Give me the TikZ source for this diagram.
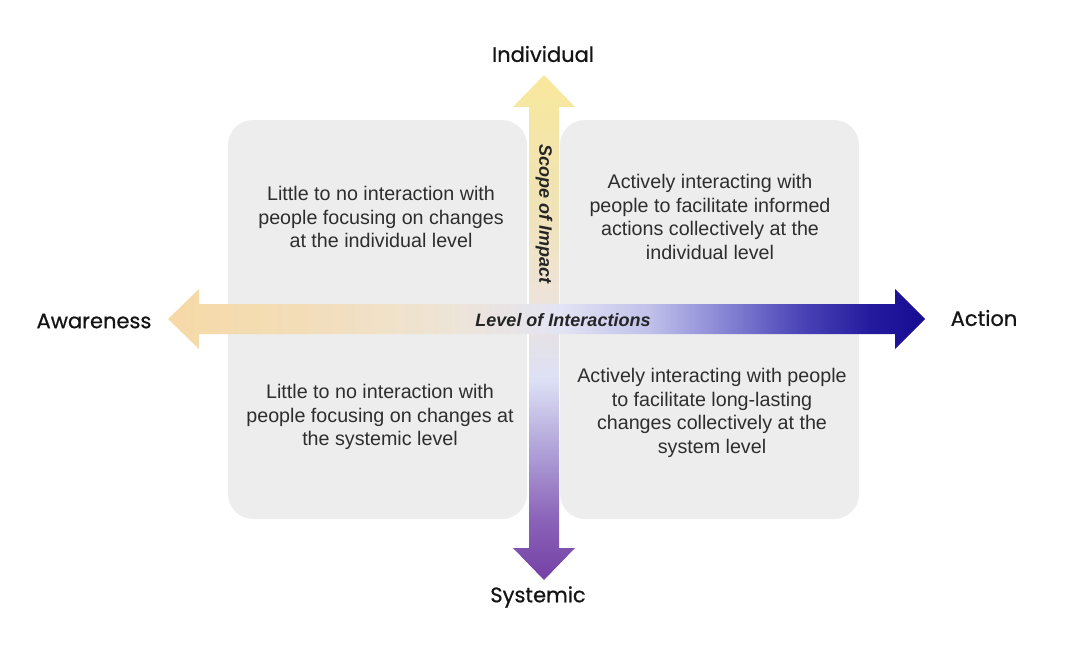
\documentclass[tikz,border=0pt]{standalone}
\usepackage{fontspec}
\setmainfont{Liberation Sans}
\newfontfamily\labelfont[FakeBold=0.7]{Poppins}
\usetikzlibrary{positioning}
\definecolor{boxgray}{HTML}{ECEDEC}
\definecolor{boxtext}{HTML}{2E2E2E}
\definecolor{labeltext}{HTML}{141414}
\definecolor{h0}{HTML}{F6D9A6}
\definecolor{h1}{HTML}{F3DDB8}
\definecolor{h2}{HTML}{EEE4D6}
\definecolor{h3}{HTML}{E3E4F4}
\definecolor{h4}{HTML}{C0C0EA}
\definecolor{h5}{HTML}{8A88D6}
\definecolor{h6}{HTML}{4B45B7}
\definecolor{h7}{HTML}{231A9E}
\definecolor{h8}{HTML}{160C92}
\definecolor{v0}{HTML}{7440A5}
\definecolor{v1}{HTML}{8A62B8}
\definecolor{v2}{HTML}{B0A2D8}
\definecolor{v3}{HTML}{DDE0F5}
\definecolor{v4}{HTML}{EEE3D6}
\definecolor{v5}{HTML}{F0E3B5}
\definecolor{v6}{HTML}{F8E89C}
\pgfdeclarehorizontalshading{hgrad}{100bp}{color(0bp)=(h0); color(25bp)=(h0); color(33.7bp)=(h1); color(43.6bp)=(h2); color(50.9bp)=(h3); color(56.8bp)=(h4); color(61.5bp)=(h5); color(66.7bp)=(h6); color(71.4bp)=(h7); color(75bp)=(h8); color(100bp)=(h8)}
\pgfdeclareverticalshading{vgrad}{100bp}{color(0bp)=(v0); color(25bp)=(v0); color(30.9bp)=(v1); color(37.9bp)=(v2); color(44.8bp)=(v3); color(53.7bp)=(v4); color(62.6bp)=(v5); color(75bp)=(v6); color(100bp)=(v6)}
\tikzset{
  quad/.style={fill=boxgray, draw=none, rounded corners=25pt},
  quadtext/.style={text=boxtext, align=center, font=\fontsize{19.7}{23.5}\selectfont},
  axislabel/.style={text=labeltext, font=\labelfont\fontsize{21}{25}\selectfont},
  axistitle/.style={text=boxtext!80!black, font=\bfseries\itshape\fontsize{18}{21}\selectfont, inner sep=0pt},
}
\begin{document}
\begin{tikzpicture}[x=1pt,y=-1pt]
\useasboundingbox (0,0) rectangle (1074,654);
% quadrant backgrounds
\fill[quad] (228,120) rectangle (527,519);
\fill[quad] (560,120) rectangle (859,519);
% vertical arrow
\shade[shading=vgrad] (544,75) -- (575,107) -- (559,107) -- (559,548) -- (575,548) -- (544,580) -- (513,548) -- (529,548) -- (529,107) -- (513,107) -- cycle;
% horizontal arrow
\shade[shading=hgrad] (168,319) -- (199,289) -- (199,304) -- (895,304) -- (895,289) -- (925,319) -- (895,349) -- (895,334) -- (199,334) -- (199,349) -- cycle;
% quadrant texts
\node[quadtext] (tl) at (381,217) {Little to no interaction with\\people focusing on changes\\at the individual level};
\node[quadtext] (tr) at (710,217) {Actively interacting with\\people to facilitate informed\\actions collectively at the\\individual level};
\node[quadtext] (bl) at (380,417) {Little to no interaction with\\people focusing on changes at\\the systemic level};
\node[quadtext] (br) at (712,413) {Actively interacting with people\\to facilitate long-lasting\\changes collectively at the\\system level};
% axis titles
\node[axistitle] (loi) at (563,320) {Level of Interactions};
\node[axistitle, rotate=-90] (soi) at (544,214) {Scope of Impact};
% axis end labels
\node[axislabel] (ind) at (543,54) {Individual};
\node[axislabel] (sys) at (538,597) {Systemic};
\node[axislabel] (awa) at (94,321) {Awareness};
\node[axislabel] (act) at (984,318) {Action};
\end{tikzpicture}
\end{document}
